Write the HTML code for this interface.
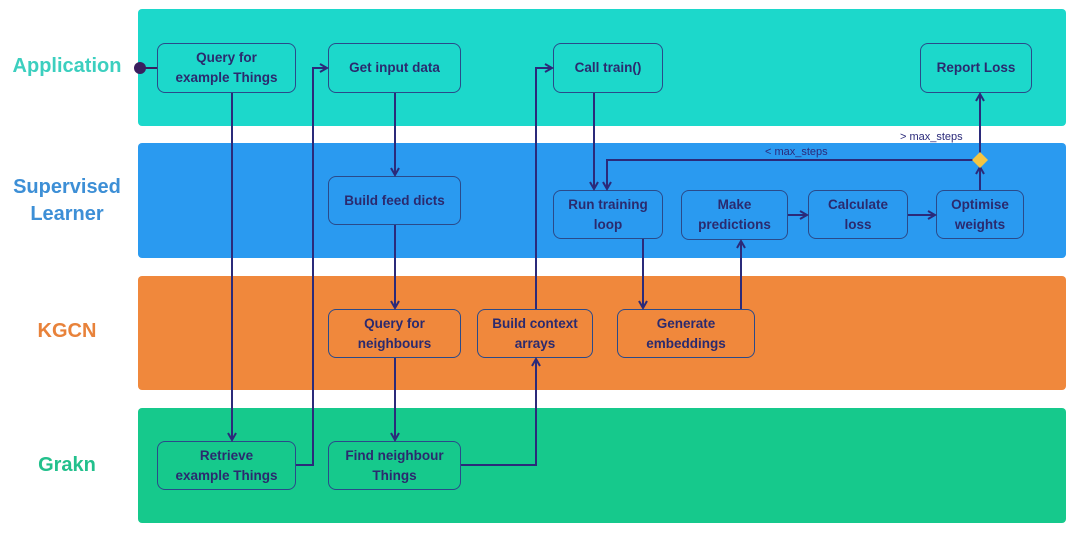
<!DOCTYPE html>
<html><head><style>
body{margin:0;width:1080px;height:536px;background:#fff;overflow:hidden;font-family:"Liberation Sans",sans-serif}
.lane{position:absolute;left:138px;width:928px;border-radius:4px}
.lab{position:absolute;width:130px;text-align:center;font-weight:bold;font-size:20px}
.b{position:absolute;box-sizing:border-box;border:1.5px solid #2a4a8a;border-radius:8px;display:flex;align-items:center;justify-content:center;text-align:center;font-weight:bold;font-size:13.5px;color:#2b2a6e;line-height:20px}
</style></head><body>
<div class="lane" style="top:9px;height:117px;background:#1cd8cb"></div>
<div class="lane" style="top:143px;height:115px;background:#2a9af0"></div>
<div class="lane" style="top:276px;height:114px;background:#f0883c"></div>
<div class="lane" style="top:408px;height:115px;background:#16c98c"></div>
<div class="lab" style="left:2px;top:55px;color:#3ccfbf">Application</div>
<div class="lab" style="left:2px;top:174px;color:#3d8fd6;line-height:27px">Supervised<br>Learner</div>
<div class="lab" style="left:2px;top:320px;color:#e8823a">KGCN</div>
<div class="lab" style="left:2px;top:454px;color:#22c08c">Grakn</div>

<div class="b" style="left:157px;top:43px;width:139px;height:50px">Query for<br>example Things</div>
<div class="b" style="left:328px;top:43px;width:133px;height:50px">Get input data</div>
<div class="b" style="left:553px;top:43px;width:110px;height:50px">Call train()</div>
<div class="b" style="left:920px;top:43px;width:112px;height:50px">Report Loss</div>
<div class="b" style="left:328px;top:176px;width:133px;height:49px">Build feed dicts</div>
<div class="b" style="left:553px;top:190px;width:110px;height:49px">Run training<br>loop</div>
<div class="b" style="left:681px;top:190px;width:107px;height:50px">Make<br>predictions</div>
<div class="b" style="left:808px;top:190px;width:100px;height:49px">Calculate<br>loss</div>
<div class="b" style="left:936px;top:190px;width:88px;height:49px">Optimise<br>weights</div>
<div class="b" style="left:328px;top:309px;width:133px;height:49px">Query for<br>neighbours</div>
<div class="b" style="left:477px;top:309px;width:116px;height:49px">Build context<br>arrays</div>
<div class="b" style="left:617px;top:309px;width:138px;height:49px">Generate<br>embeddings</div>
<div class="b" style="left:157px;top:441px;width:139px;height:49px">Retrieve<br>example Things</div>
<div class="b" style="left:328px;top:441px;width:133px;height:49px">Find neighbour<br>Things</div>

<svg width="1080" height="536" style="position:absolute;left:0;top:0">
<defs><marker id="a" markerWidth="10" markerHeight="10" refX="8" refY="5" orient="auto" markerUnits="userSpaceOnUse"><path d="M1,1 L8,5 L1,9" fill="none" stroke="#2b2a7a" stroke-width="2"/></marker></defs>
<g stroke="#2b2a7a" stroke-width="2" fill="none" marker-end="url(#a)">
<path d="M232 93 V440"/>
<path d="M296 465 H313 V68 H327"/>
<path d="M395 93 V175"/>
<path d="M395 225 V308"/>
<path d="M395 358 V440"/>
<path d="M461 465 H536 V359"/>
<path d="M536 309 V68 H552"/>
<path d="M594 93 V189"/>
<path d="M643 239 V308"/>
<path d="M741 309 V241"/>
<path d="M788 215 H807"/>
<path d="M908 215 H935"/>
<path d="M980 190 V167"/>
<path d="M980 153 V94"/>
<path d="M973 160 H607 V189"/>
</g>
<circle cx="140" cy="68" r="6" fill="#3a1f5e"/>
<path d="M140 68 H157" stroke="#3a1f5e" stroke-width="2"/>
<path d="M980 152 L988 160 L980 168 L972 160 Z" fill="#f5c542"/>
<text x="900" y="140" font-size="11" fill="#2b2a7a" font-family="Liberation Sans">&gt; max_steps</text>
<text x="765" y="155" font-size="11" fill="#2b2a7a" font-family="Liberation Sans">&lt; max_steps</text>
</svg>
</body></html>
